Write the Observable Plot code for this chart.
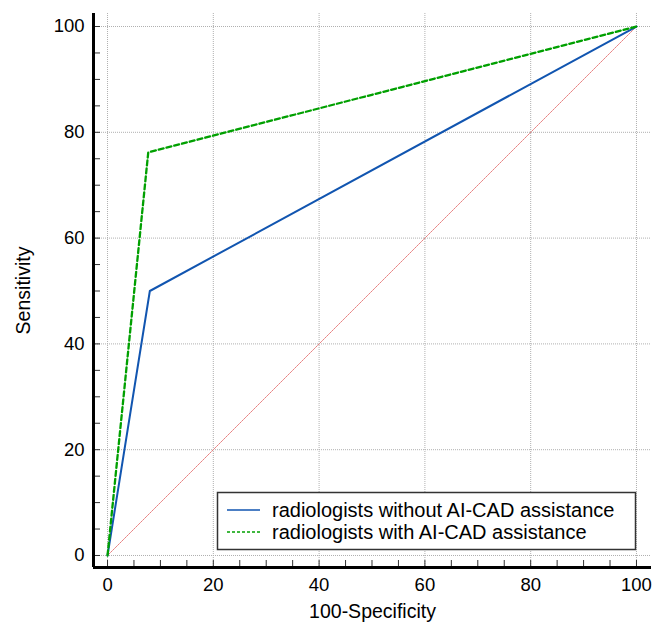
<!DOCTYPE html>
<html>
<head>
<meta charset="utf-8">
<script src="https://cdn.jsdelivr.net/npm/d3@7"></script>
<script src="https://cdn.jsdelivr.net/npm/@observablehq/plot@0.6"></script>
<style>
  html, body { margin: 0; padding: 0; background: #fff; }
  #chart svg { display: block; }
</style>
</head>
<body>
<div id="chart"></div>
<script>
// Data
const seriesNames = ["radiologists without AI-CAD assistance", "radiologists with AI-CAD assistance"];
const withoutX = [0, 8.0, 100];
const withoutY = [0, 50.0, 100];
const withX = [0, 7.7, 100];
const withY = [0, 76.2, 100];
const diagonal = [0, 100];
const majorTicks = [0, 20, 40, 60, 80, 100];
const minorTicks = d3.range(0, 101, 5);
const xLabel = "100-Specificity";
const yLabel = "Sensitivity";

const colors = ["#1155b0", "#00a000"];

const withoutData = withoutX.map((x, i) => ({x, y: withoutY[i]}));
const withData = withX.map((x, i) => ({x, y: withY[i]}));
const diagData = diagonal.map(v => ({x: v, y: v}));

const xDomain = [-2.65, 102.84];
const yDomain = [-2.27, 102.46];
const font = "Liberation Sans, Arial, sans-serif";

const plot = Plot.plot({
  width: 662,
  height: 623,
  marginLeft: 93,
  marginRight: 11,
  marginTop: 13,
  marginBottom: 56,
  style: {fontFamily: font, fontSize: "18.5px", color: "#000", background: "#fff"},
  x: {domain: xDomain, label: null},
  y: {domain: yDomain, label: null},
  marks: [
    // grid
    Plot.ruleX(majorTicks, {stroke: "#b0b0b0", strokeWidth: 1, strokeDasharray: "1,1"}),
    Plot.ruleY(majorTicks, {stroke: "#b0b0b0", strokeWidth: 1, strokeDasharray: "1,1"}),
    // diagonal reference
    Plot.line(diagData, {x: "x", y: "y", stroke: "#e88080", strokeWidth: 1, strokeDasharray: "1.5,1"}),
    // series
    Plot.line(withoutData, {x: "x", y: "y", stroke: colors[0], strokeWidth: 2}),
    Plot.line(withData, {x: "x", y: "y", stroke: colors[1], strokeWidth: 2.3, strokeDasharray: "5,3"}),
    // axes: inward ticks
    Plot.axisX(minorTicks, {tickSize: -7, tickFormat: () => "", stroke: "#333", strokeWidth: 1, label: null}),
    Plot.axisY(minorTicks, {tickSize: -7, tickFormat: () => "", stroke: "#333", strokeWidth: 1, label: null}),
    Plot.axisX(majorTicks, {tickSize: 0, tickPadding: 10, fontSize: 18.5, label: null}),
    Plot.axisY(majorTicks, {tickSize: 0, tickPadding: 9, fontSize: 18.5, label: null}),
    // axis titles
    Plot.text([xLabel], {frameAnchor: "bottom", dy: 44, lineAnchor: "middle", textAnchor: "middle", fontSize: 19.5, fill: "#000"}),
    Plot.text([yLabel], {frameAnchor: "left", dx: -70, rotate: -90, lineAnchor: "middle", textAnchor: "middle", fontSize: 19.5, fill: "#000"}),
    // axis lines
    Plot.ruleX([xDomain[0]], {stroke: "#000", strokeWidth: 3}),
    Plot.ruleY([yDomain[0]], {stroke: "#000", strokeWidth: 3})
  ]
});

document.getElementById("chart").appendChild(plot);

// Legend inside the plot (bottom-right)
const svg = d3.select(plot);
const lg = svg.append("g").attr("font-family", font).attr("font-size", 20).attr("text-anchor", "start");
lg.append("rect").attr("x", 217.5).attr("y", 492.5).attr("width", 418).attr("height", 57)
  .attr("fill", "#fff").attr("stroke", "#333").attr("stroke-width", 1.5);
seriesNames.forEach((name, i) => {
  const cy = 510 + i * 22;
  lg.append("line").attr("x1", 227).attr("x2", 260).attr("y1", cy).attr("y2", cy)
    .attr("stroke", colors[i]).attr("stroke-width", 1.5)
    .attr("stroke-dasharray", i === 1 ? "3,2" : null);
  lg.append("text").attr("x", 272).attr("y", cy).attr("dy", "0.35em").attr("fill", "#000")
    .attr("text-anchor", "start").text(name);
});
</script>
</body>
</html>
